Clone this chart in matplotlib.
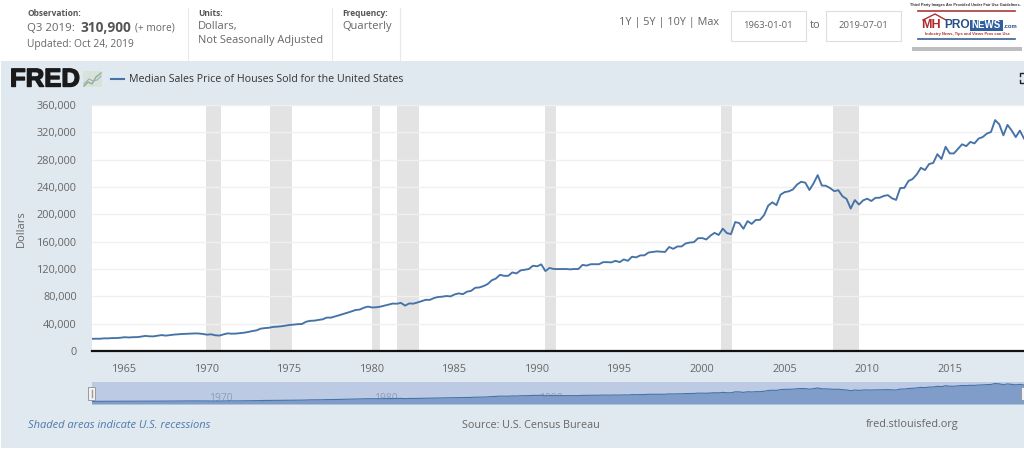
import matplotlib
matplotlib.use('Agg')
import matplotlib.pyplot as plt
import matplotlib.patheffects as pe
from matplotlib.patches import Rectangle
import numpy as np

plt.rcParams['font.family'] = ['Open Sans', 'DejaVu Sans']

W, H = 1024, 450

# quarterly values, 1963 Q1 on
prices_60s = [17800, 18000, 17900, 18500, 18500, 18900, 18900, 19400, 20200, 19800, 20200, 20300,
              21000, 22100, 21500, 21400, 22300, 23300, 22500, 23300, 24000, 24500, 24900, 25200,
              25600, 25700, 25600, 24900]
prices_70s = [23900, 24400, 23000, 22600, 24300, 25800, 25300, 25500, 26200, 26800, 27900, 29200,
              30200, 32700, 33500, 34000, 35200, 35600, 36200, 37200, 38100, 38600, 39300, 39500,
              42800, 44200, 44400, 45500, 46300, 48900, 48800, 50500, 52300, 54100, 56000, 57900,
              60000, 60600, 63300, 65000]
prices_80s = [63700, 64000, 64900, 66400, 67900, 69400, 69200, 70400, 66400, 69600, 69300, 71000,
              73000, 74900, 74800, 77500, 79000, 79500, 80500, 79900, 82800, 84300, 83200, 86800,
              88000, 92500, 93000, 95000, 97900, 103400, 106000, 111500, 110000, 110000, 115000, 113500,
              118000, 118900, 120000, 124800]
prices_90s = [123900, 126800, 117000, 121500, 120000, 119900, 120000, 120000, 119500, 120000, 120000, 126000,
              125000, 127000, 127000, 127000, 130000, 130000, 129700, 132000, 130000, 134000, 132000, 138000,
              137000, 139900, 140000, 144100, 145000, 145800, 145400, 144900, 152200, 149500, 153000, 153000,
              157400, 158700, 159300, 165000]
prices_00s = [165300, 163200, 168800, 172900, 169800, 179000, 172500, 171100, 188700, 187200, 178900, 190100,
              186000, 191800, 191900, 198800, 212700, 217600, 213500, 228800, 232500, 233700, 236400, 243600,
              247700, 246300, 235600, 245400, 257400, 242200, 241800, 238400, 233900, 235300, 226500, 222500,
              208400, 220900, 214300, 220400]
prices_10s = [222900, 219500, 224100, 224300, 226900, 228100, 223500, 221100, 238400, 238700, 248800, 251700,
              258400, 268100, 264800, 273600, 275200, 288000, 281000, 298900, 289200, 289100, 295800, 302500,
              299800, 306000, 303800, 310900, 313100, 318200, 320500, 337900, 331800, 315600, 330900, 322800,
              313000, 322500, 310900]
recession_start = [1969.92, 1973.83, 1980.0, 1981.5, 1990.5, 2001.17, 2007.92]
recession_end = [1970.83, 1975.17, 1980.5, 1982.83, 1991.17, 2001.83, 2009.5]
year_ticks = [1965, 1970, 1975, 1980, 1985, 1990, 1995, 2000, 2005, 2010, 2015]
nav_ticks = [1970, 1980, 1990, 2000, 2010]
y_ticks = [0, 40000, 80000, 120000, 160000, 200000, 240000, 280000, 320000, 360000]

prices = prices_60s + prices_70s + prices_80s + prices_90s + prices_00s + prices_10s
dates = 1963 + np.arange(len(prices)) / 4

BLUE = '#4572a7'
PANEL = '#e1e9f0'
GREY = '#666666'
LOGO_FONT = 'Liberation Sans'


def box(left, top, right, bottom):
    return [left / W, 1 - bottom / H, (right - left) / W, (bottom - top) / H]


fig = plt.figure(figsize=(W / 100, H / 100), dpi=100, facecolor='white')

# page layer, in pixels
bg = fig.add_axes([0, 0, 1, 1], zorder=0)
bg.set_xlim(0, W)
bg.set_ylim(H, 0)
bg.axis('off')
bg.add_patch(Rectangle((1, 60.5), W, 387, color=PANEL, lw=0))
for x in [188, 332, 399.5]:
    bg.plot([x, x], [8, 60.5], color='#e8e8e8', lw=0.8)

bg.text(27, 13, 'Observation:', fontsize=6, fontweight='bold', color='#555555', va='center')
bg.text(27, 28.5, 'Q3 2019:', fontsize=8.2, color=GREY, va='center')
bg.text(80, 28, '310,900', fontsize=9.8, fontweight='bold', color='#555555', va='center')
bg.text(135, 28.5, '(+ more)', fontsize=7.3, color=GREY, va='center')
bg.text(27, 44, 'Updated: Oct 24, 2019', fontsize=7.4, color=GREY, va='center')
bg.text(198, 13, 'Units:', fontsize=6, fontweight='bold', color='#555555', va='center')
bg.text(198, 26, 'Dollars,', fontsize=8, color=GREY, va='center')
bg.text(198, 41, 'Not Seasonally Adjusted', fontsize=7.9, color=GREY, va='center')
bg.text(342, 13, 'Frequency:', fontsize=6, fontweight='bold', color='#555555', va='center')
bg.text(342, 26, 'Quarterly', fontsize=8, color=GREY, va='center')

bg.text(619, 22, '1Y | 5Y | 10Y | Max', fontsize=7.8, color=GREY, va='center')
for left, right, label in [(730.5, 805.5, '1963-01-01'), (826, 901, '2019-07-01')]:
    bg.add_patch(Rectangle((left, 10.5), right - left, 30, fc='white', ec='#dddddd', lw=0.8))
    bg.text((left + right) / 2, 25.5, label, fontsize=6.8, color=GREY, ha='center', va='center')
bg.text(815.5, 25, 'to', fontsize=8, color=GREY, ha='center', va='center')

# logo
bg.add_patch(Rectangle((912, 46), 110, 5, color='#bdbdbd', lw=0))
bg.add_patch(Rectangle((912, 2), 110, 45, color='white', lw=0))
bg.text(965, 5, 'Third Party Images Are Provided Under Fair Use Guidelines.', fontsize=2.8,
        fontweight='bold', color='#333333', ha='center', va='center', family=LOGO_FONT)
bg.plot([918, 1015], [11, 11], color='#a83a3a', lw=1.2)
bg.plot([923, 935, 946], [20, 14, 20], color='#b03030', lw=1)
bg.text(921, 25, 'MH', fontsize=9, fontweight='bold', color='#b02a2a', va='center', family=LOGO_FONT)
bg.text(944.5, 25, 'PRO', fontsize=8.6, fontweight='bold', color='#274f86', va='center', family=LOGO_FONT)
bg.add_patch(Rectangle((970, 19.5), 33, 11, color='#2f5f9e', lw=0))
bg.text(986.5, 25, 'NEWS', fontsize=7, fontweight='bold', color='white', ha='center', va='center', family=LOGO_FONT)
bg.text(1004, 27, '.com', fontsize=4.2, fontweight='bold', color='#274f86', va='center', family=LOGO_FONT)
bg.text(967, 34, 'Industry News, Tips and Views Pros can Use', fontsize=2.9, fontweight='bold',
        color='#b03030', ha='center', va='center', family=LOGO_FONT)
bg.plot([918, 1015], [39, 39], color='#3a5f94', lw=1.2)

# FRED header
fred = bg.text(10, 79.5, 'FRED', fontsize=18.5, fontweight='bold', color='#1a1a1a', va='center', family=LOGO_FONT)
fred.set_path_effects([pe.withStroke(linewidth=1, foreground='#1a1a1a')])
bg.add_patch(Rectangle((83, 71), 19, 16, color='#d8e2d8', lw=0))
bg.plot([84, 88, 92, 96, 101], [86, 82, 84, 77, 73], color='#8fae8f', lw=1)
bg.plot([84, 89, 93, 97, 101], [84, 79, 81, 80, 76], color='#9ab0c4', lw=0.8)
bg.plot([111, 124], [78.5, 78.5], color=BLUE, lw=1.5)
bg.text(129, 79, 'Median Sales Price of Houses Sold for the United States', fontsize=7.7, color='#333333', va='center')
bg.plot([1020, 1020, 1024], [76, 73, 73], color='#222222', lw=1)
bg.plot([1020, 1020, 1024], [80, 83, 83], color='#222222', lw=1)

bg.text(21, 229, 'Dollars', fontsize=8, color=GREY, rotation=90, ha='center', va='center')
bg.text(28, 425, 'Shaded areas indicate U.S. recessions', fontsize=8.05, fontstyle='italic', color='#4f79ab', va='center')
bg.text(462, 425, 'Source: U.S. Census Bureau', fontsize=7.75, color=GREY, va='center')
bg.text(866, 425, 'fred.stlouisfed.org', fontsize=7.8, color=GREY, va='center')

# main chart
ax = fig.add_axes(box(92, 105, 1024, 351), zorder=2)
ax.set_facecolor('white')
for s, e in zip(recession_start, recession_end):
    ax.axvspan(s, e, color='#e3e3e3', lw=0, zorder=1)
ax.plot(dates, prices, color=BLUE, lw=1.35, zorder=3, solid_joinstyle='round')
ax.set_xlim(1963.03, 2019.5)
ax.set_ylim(0, 360000)
ax.set_yticks(y_ticks)
ax.set_yticklabels([f'{v:,}' for v in y_ticks])
ax.set_xticks(year_ticks)
ax.grid(axis='y', color='#f0f0f0', lw=1, zorder=0)
ax.tick_params(axis='both', length=0, labelsize=7.8, labelcolor=GREY)
ax.tick_params(axis='x', pad=9)
ax.tick_params(axis='y', pad=11)
for side in ['top', 'right', 'left']:
    ax.spines[side].set_visible(False)
ax.spines['bottom'].set_color('#111111')
ax.spines['bottom'].set_linewidth(1.6)
ax.spines['bottom'].set_zorder(4)

# navigator strip
nav = fig.add_axes(box(92, 382, 1024, 404), zorder=2)
nav.set_facecolor('#bccbe3')
nav.fill_between(dates, prices, -30000, color='#7f9dc8', lw=0, zorder=2)
nav.plot(dates, prices, color=BLUE, lw=0.8, zorder=3)
nav.set_xlim(1963.03, 2019.5)
nav.set_ylim(-30000, 365000)
nav.set_xticks([])
nav.set_yticks([])
for side in nav.spines:
    nav.spines[side].set_visible(False)
for year in nav_ticks:
    nav.text(year + 0.85, 70000, str(year), fontsize=7.5, color='#8a9dbb', ha='center', va='center', zorder=1)

# navigator handles drawn on top
top = fig.add_axes([0, 0, 1, 1], zorder=3)
top.set_xlim(0, W)
top.set_ylim(H, 0)
top.axis('off')
for x in [88, 1021]:
    top.add_patch(Rectangle((x, 387), 7, 13, fc='#f2f2f2', ec='#999999', lw=0.7))
    top.plot([x + 3.5, x + 3.5], [390, 397], color='#999999', lw=1)

fig.savefig('out.png', dpi=100)
